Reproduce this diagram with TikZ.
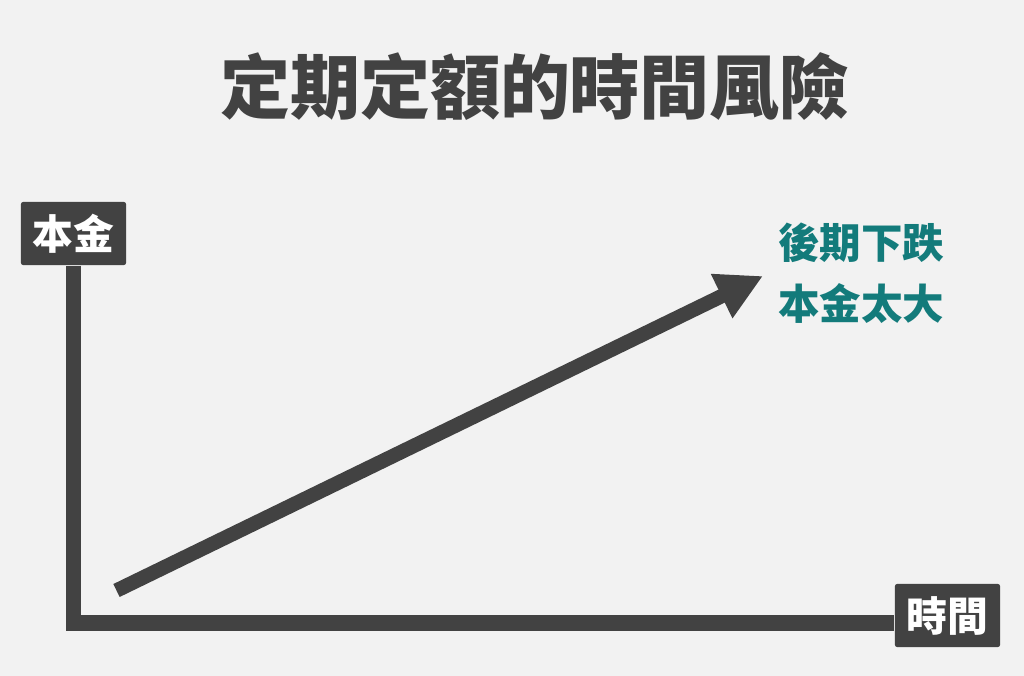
\documentclass[tikz,border=0pt]{standalone}
\usepackage{fontspec}
\setmainfont{Noto Sans CJK TC}
\usetikzlibrary{arrows.meta}
\definecolor{fondo}{HTML}{F2F2F2}
\definecolor{tinta}{HTML}{424242}
\definecolor{verde}{HTML}{137B7B}
\begin{document}
\begin{tikzpicture}[x=0.01cm, y=-0.01cm, line join=miter,
  eje/.style={draw=tinta, line width=4.4pt},
  etiqueta/.style={fill=tinta, text=white, rounded corners=0.6pt, minimum width=1.05cm,
    minimum height=0.63cm, inner sep=0pt, font=\bfseries\fontsize{11.6pt}{12pt}\selectfont},
  nota/.style={text=verde, inner sep=0pt, font=\bfseries\fontsize{11.8pt}{12pt}\selectfont}]
  % el fondo
  \fill[fondo] (0,0) rectangle (1024,676);
  \useasboundingbox (0,0) rectangle (1024,676);
  % el título
  \node[text=tinta, font=\bfseries\fontsize{19.9pt}{22pt}\selectfont] (titulo) at (535,87) {定期定額的時間風險};
  % los ejes
  \node[etiqueta] (ejey) at (73.5,233.5) {本金};
  \node[etiqueta] (ejex) at (947.5,615.5) {時間};
  \coordinate (origen) at (73.5,623);
  \draw[eje] (ejey.south) -- (origen) -- (ejex.west |- origen);
  % la flecha
  \coordinate (cola) at (116.5,590.5);
  \coordinate (punta) at (763,276);
  \draw[draw=tinta, line width=4.1pt, -{Triangle[length=0.46cm, width=0.46cm]}] (cola) -- (punta);
  % la nota
  \node[nota] (nota1) at (861,243) {後期下跌};
  \node[nota] (nota2) at (861,304) {本金太大};
\end{tikzpicture}
\end{document}
